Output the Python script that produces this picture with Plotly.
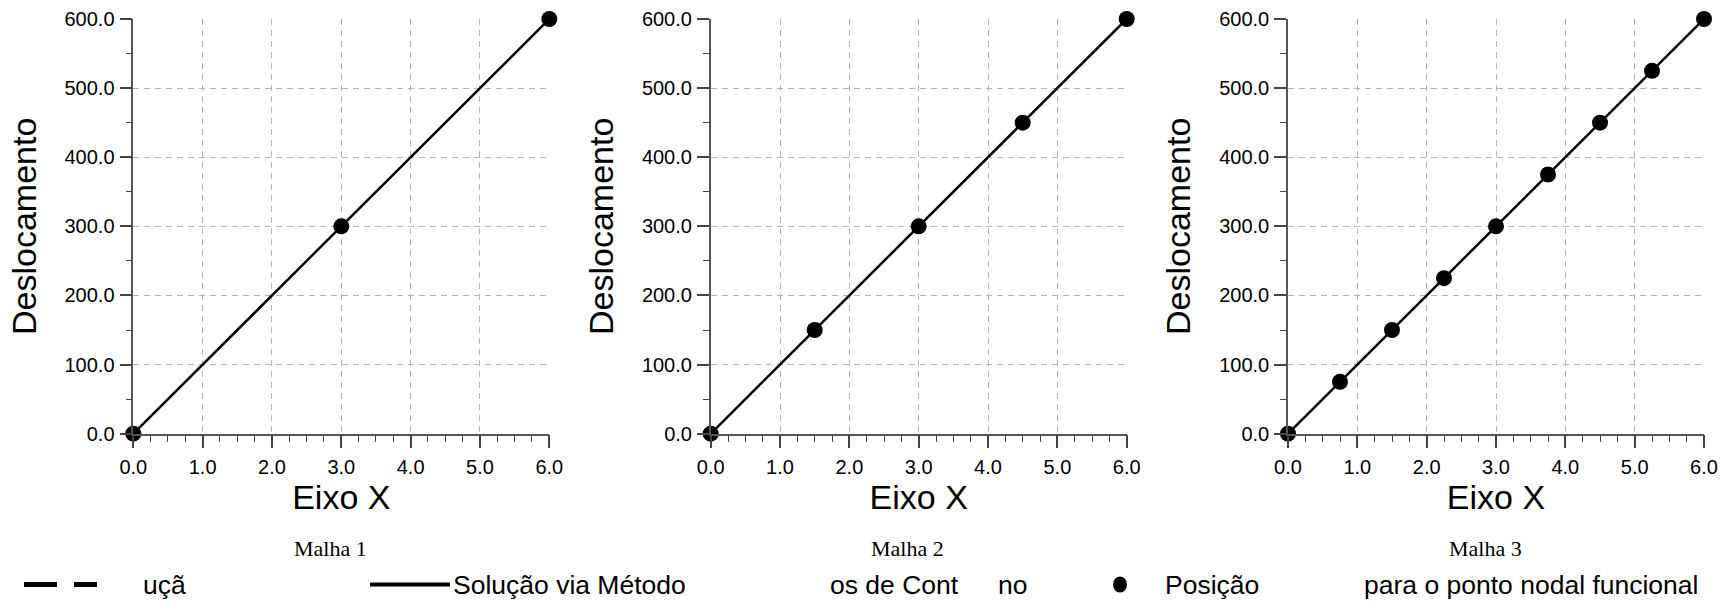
import plotly.graph_objects as go

W, H = 1726, 602

# ---- data ----
x_malha1 = [0.0, 3.0, 6.0]
y_malha1 = [0.0, 300.0, 600.0]
x_malha2 = [0.0, 1.5, 3.0, 4.5, 6.0]
y_malha2 = [0.0, 150.0, 300.0, 450.0, 600.0]
x_malha3 = [0.0, 0.75, 1.5, 2.25, 3.0, 3.75, 4.5, 5.25, 6.0]
y_malha3 = [0.0, 75.0, 150.0, 225.0, 300.0, 375.0, 450.0, 525.0, 600.0]
panel_titles = ["Malha 1", "Malha 2", "Malha 3"]
x_tick_vals = [0, 1, 2, 3, 4, 5, 6]
y_tick_vals = [0, 100, 200, 300, 400, 500, 600]
x_title = "Eixo X"
y_title = "Deslocamento"

panels = [(x_malha1, y_malha1), (x_malha2, y_malha2), (x_malha3, y_malha3)]

# panel pixel boxes (left, right)
px_left = [133.3, 710.7, 1288.0]
px_width = 416.0
py_top, py_bottom = 19.0, 433.7

SANS = "Liberation Sans, Arial, sans-serif"
SERIF = "Liberation Serif, Times New Roman, serif"

fig = go.Figure()
layout = dict(
    width=W, height=H, margin=dict(l=0, r=0, t=0, b=0, autoexpand=False),
    paper_bgcolor="white", plot_bgcolor="white", showlegend=False,
)
ydom = [1 - py_bottom / H, 1 - py_top / H]
annotations = []
for i, (xs, ys) in enumerate(panels):
    n = "" if i == 0 else str(i + 1)
    fig.add_trace(go.Scatter(
        x=xs, y=ys, mode="lines+markers", xaxis="x" + n, yaxis="y" + n,
        line=dict(color="black", width=2.5),
        marker=dict(color="black", size=16),
        cliponaxis=False,
    ))
    xdom = [px_left[i] / W, (px_left[i] + px_width) / W]
    layout["xaxis" + n] = dict(
        domain=xdom, anchor="y" + n, range=[0, 6], automargin=False,
        tickvals=x_tick_vals, tickformat=".1f",
        ticks="outside", ticklen=13, tickwidth=1.5, tickcolor="#444",
        ticklabelstandoff=2,
        showline=True, linecolor="#555", linewidth=1.5,
        showgrid=True, gridcolor="#b4b4b4", gridwidth=1, griddash="6px,5px",
        zeroline=False,
        minor=dict(dtick=0.25, ticks="outside", ticklen=7, tickwidth=1.2,
                   tickcolor="#444", showgrid=False),
        tickfont=dict(family=SANS, size=20, color="black"),
        title=dict(text=x_title, font=dict(family=SANS, size=34, color="black"),
                   standoff=4),
        fixedrange=True,
    )
    layout["yaxis" + n] = dict(
        domain=ydom, anchor="x" + n, range=[0, 600], automargin=False,
        tickvals=y_tick_vals, tickformat=".1f",
        ticks="outside", ticklen=12, tickwidth=1.5, tickcolor="#444",
        ticklabelstandoff=1,
        showline=True, linecolor="#555", linewidth=1.5,
        showgrid=True, gridcolor="#b4b4b4", gridwidth=1, griddash="6px,5px",
        zeroline=False,
        minor=dict(dtick=50, ticks="outside", ticklen=6, tickwidth=1.2,
                   tickcolor="#444", showgrid=False),
        tickfont=dict(family=SANS, size=20, color="black"),
        title=dict(text=y_title, font=dict(family=SANS, size=34, color="black"),
                   standoff=18),
        fixedrange=True,
    )
    annotations.append(dict(
        text=panel_titles[i], xref="paper", yref="paper",
        x=(px_left[i] + px_width / 2 - 11) / W, y=1 - 548 / H,
        showarrow=False, xanchor="center", yanchor="middle",
        font=dict(family=SERIF, size=22, color="black"),
    ))

# ---- bottom legend row (text fragments as in the reference) ----
ly = 1 - 584.5 / H
leg_font = dict(family=SANS, size=26.5, color="black")
legend_texts = [
    ("uçã", 141),
    ("Solução via Método", 451),
    ("os de Cont", 828),
    ("no", 996),
    ("Posição", 1163),
    ("para o ponto nodal funcional", 1362),
]
for t, xpx in legend_texts:
    annotations.append(dict(
        text=t, xref="paper", yref="paper", x=xpx / W, y=ly,
        showarrow=False, xanchor="left", yanchor="middle", font=leg_font,
    ))

shapes = [
    dict(type="line", xref="paper", yref="paper", x0=24 / W, x1=57 / W,
         y0=ly, y1=ly, line=dict(color="black", width=5)),
    dict(type="line", xref="paper", yref="paper", x0=74 / W, x1=97 / W,
         y0=ly, y1=ly, line=dict(color="black", width=5)),
    dict(type="line", xref="paper", yref="paper", x0=370 / W, x1=450 / W,
         y0=ly, y1=ly, line=dict(color="black", width=4)),
    dict(type="circle", xref="paper", yref="paper",
         x0=(1120 - 7) / W, x1=(1120 + 7) / W,
         y0=ly - 8 / H, y1=ly + 8 / H,
         fillcolor="black", line=dict(color="black", width=0)),
]
layout["annotations"] = annotations
layout["shapes"] = shapes
fig.update_layout(**layout)
fig.write_html("out.html")
